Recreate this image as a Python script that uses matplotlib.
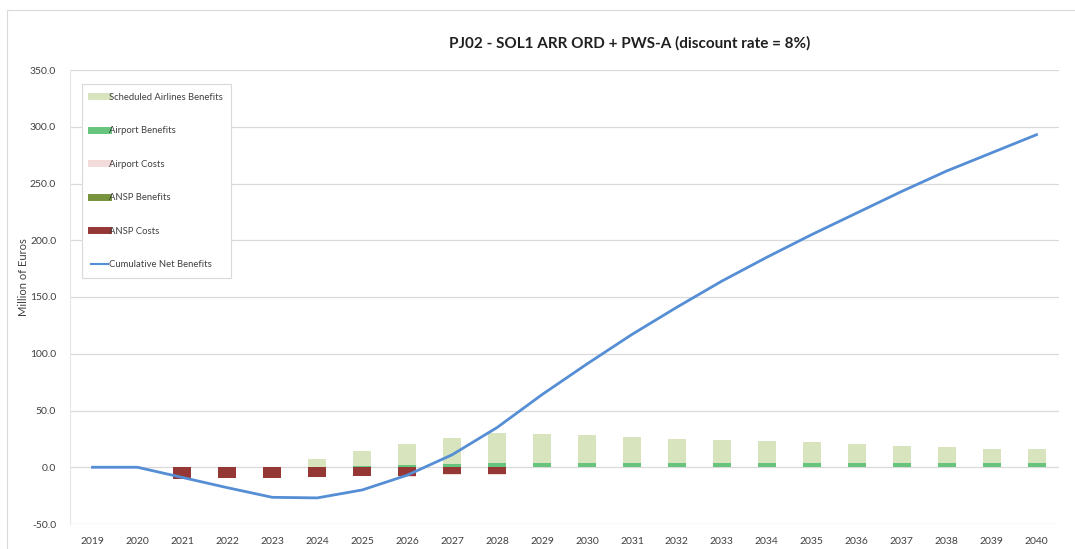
import matplotlib.pyplot as plt
import numpy as np
from matplotlib.lines import Line2D
from matplotlib.patches import Rectangle

plt.rcParams['font.family'] = ['Lato', 'DejaVu Sans']

anos = [str(a) for a in range(2019, 2041)]

# valores em milhões de euros
sched_airlines = [0, 0, 0, 0, 0, 7.5, 12.5, 18.5, 23, 26.5, 26, 24.5, 23, 21.5, 20.5, 19.5, 18.5, 17, 15.5, 14.5, 13, 12.5]
airport_ben = [0, 0, 0, 0, 0, 0, 1.5, 2.0, 3.0, 3.5, 3.5, 3.5, 3.5, 3.5, 3.5, 3.5, 3.5, 3.5, 3.5, 3.5, 3.5, 3.5]
airport_costs = [0, 0, -0.4, -0.3, -0.3, -0.5, -0.6, -0.7, -0.6, -0.6, 0, 0, 0, 0, 0, 0, 0, 0, 0, 0, 0, 0]
ansp_ben = [0] * 22
ansp_costs = [0, 0, -10.2, -9.2, -9.2, -8.2, -7.5, -7.5, -6.3, -5.8, 0, 0, 0, 0, 0, 0, 0, 0, 0, 0, 0, 0]
cumul = [0, 0, -9, -18, -26.5, -27, -20, -7, 11, 35, 64, 91, 117, 141, 164, 185, 205, 224, 243, 261, 277, 293]

c_sched = '#d7e4bd'
c_apben = '#66c47c'
c_apcost = '#f2dcdb'
c_anspben = '#77933c'
c_anspcost = '#953735'
c_line = '#558ed5'

fig = plt.figure(figsize=(10.75, 5.49), dpi=100)
ax = fig.add_axes([70 / 1075, 25 / 549, 989 / 1075, 454 / 549])

x = np.arange(len(anos))
w = 0.4
ap = np.array(airport_ben)
ax.bar(x, ap, w, color=c_apben, zorder=2)
ax.bar(x, ansp_ben, w, bottom=ap, color=c_anspben, zorder=2)
ax.bar(x, sched_airlines, w, bottom=ap + np.array(ansp_ben), color=c_sched, zorder=2)
ac = np.array(ansp_costs)
ax.bar(x, ac, w, color=c_anspcost, zorder=2)
ax.bar(x, airport_costs, w, bottom=ac, color=c_apcost, zorder=2)
ax.plot(x, cumul, color=c_line, lw=2, zorder=3)

ax.set_xlim(-0.5, 21.5)
ax.set_ylim(-50, 350)
ax.set_yticks(np.arange(-50, 351, 50))
ax.set_yticklabels([f'{v:.1f}' for v in np.arange(-50, 351, 50)])
ax.set_xticks(x)
ax.set_xticklabels(anos)
ax.tick_params(length=0, labelsize=7.5, colors='#404040')
ax.tick_params(axis='y', pad=10)
ax.tick_params(axis='x', pad=9)
ax.grid(axis='y', color='#d9d9d9', lw=0.9, zorder=0)
for s in ['top', 'right', 'bottom']:
    ax.spines[s].set_visible(False)
ax.spines['left'].set_color('#e6e6e6')
ax.spines['left'].set_linewidth(0.8)

fig.text(24 / 1075, 1 - 277 / 549, 'Million of Euros', rotation=90, ha='center', va='center',
         fontsize=8, color='#404040')
fig.text(630 / 1075, 1 - 43 / 549, 'PJ02 - SOL1 ARR ORD + PWS-A (discount rate = 8%)',
         ha='center', va='center', fontsize=11, fontweight='bold', color='#202020')

handles = [
    Line2D([], [], color=c_sched, lw=5),
    Line2D([], [], color=c_apben, lw=5),
    Line2D([], [], color=c_apcost, lw=5),
    Line2D([], [], color=c_anspben, lw=5),
    Line2D([], [], color=c_anspcost, lw=5),
    Line2D([], [], color=c_line, lw=1.5),
]
labels = ['Scheduled Airlines Benefits', 'Airport Benefits', 'Airport Costs',
          'ANSP Benefits', 'ANSP Costs', 'Cumulative Net Benefits']
leg = ax.legend(handles, labels, loc='upper left', bbox_to_anchor=(12 / 989, 1 - 14 / 454),
                fontsize=6.8, labelspacing=2.6, handlelength=1.8, handletextpad=0.15,
                borderpad=0.9, fancybox=False, framealpha=1, edgecolor='#d9d9d9',
                borderaxespad=0)
leg.get_frame().set_linewidth(0.8)
for t in leg.get_texts():
    t.set_color('#404040')

fig.patches.append(Rectangle((7 / 1075, -0.1), 1.2, 1.1 - 10.5 / 549, transform=fig.transFigure,
                             fill=False, edgecolor='#d9d9d9', lw=0.8))

fig.savefig('out.png', dpi=100)
